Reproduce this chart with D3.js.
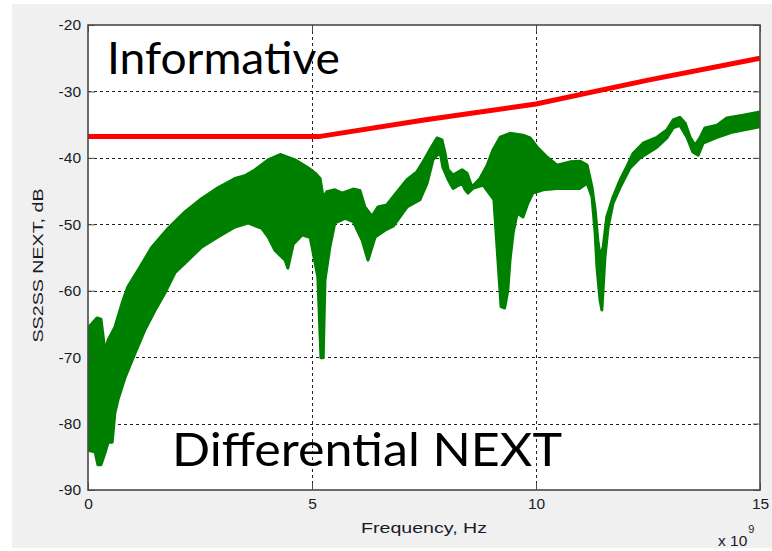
<!DOCTYPE html>
<html>
<head>
<meta charset="utf-8">
<script src="https://cdn.jsdelivr.net/npm/d3@7"></script>
<style>
  html, body { margin: 0; padding: 0; background: #ffffff; }
  svg { display: block; }
</style>
</head>
<body>
<svg id="chart" width="772" height="551"></svg>
<script>
// Axis ticks
const xTicks = [0, 5, 10, 15];            // GHz (axis shows x 10^9 Hz)
const yTicks = [-90, -80, -70, -60, -50, -40, -30, -20];

// Informative limit line: [frequency GHz, dB]
const limitFreq = [0, 5.15, 7.5, 10, 12.5, 15];
const limitDb   = [-36.8, -36.8, -34.3, -31.9, -28.3, -25.0];

// Differential NEXT, upper envelope of the measured trace: [GHz, dB]
const nextUpper = [
  [0.00,-65.6],[0.20,-64.1],[0.29,-64.3],[0.38,-69.2],[0.45,-67.4],[0.60,-65.5],
  [0.76,-61.9],[0.89,-59.4],[1.12,-56.9],[1.43,-53.4],[1.79,-50.6],[2.17,-48.1],
  [2.54,-46.1],[2.90,-44.5],[3.28,-43.1],[3.50,-42.7],[3.73,-41.8],[4.02,-40.3],
  [4.29,-39.5],[4.62,-40.3],[4.91,-41.5],[5.07,-42.3],[5.18,-43.1],[5.25,-46.0],
  [5.33,-45.1],[5.51,-44.8],[5.67,-45.3],[5.92,-44.7],[6.07,-44.9],[6.18,-47.4],
  [6.34,-48.8],[6.47,-47.4],[6.67,-47.1],[6.81,-45.9],[7.12,-43.3],[7.34,-42.1],
  [7.48,-40.6],[7.63,-38.8],[7.79,-37.0],[7.90,-37.3],[7.97,-39.3],[8.04,-41.8],
  [8.15,-42.6],[8.35,-41.8],[8.46,-42.3],[8.57,-44.4],[8.75,-43.1],[8.91,-41.1],
  [9.04,-38.8],[9.20,-36.9],[9.42,-36.3],[9.71,-36.6],[9.87,-37.0],[10.04,-38.5],
  [10.25,-39.9],[10.47,-41.1],[10.76,-40.6],[10.98,-40.5],[11.14,-41.1],[11.25,-44.4],
  [11.32,-47.8],[11.38,-52.4],[11.43,-54.9],[11.50,-53.4],[11.58,-48.9],[11.72,-45.9],
  [11.88,-43.3],[12.03,-41.3],[12.17,-39.3],[12.39,-37.8],[12.70,-36.9],[12.92,-35.8],
  [13.06,-34.3],[13.21,-33.9],[13.33,-34.8],[13.44,-36.9],[13.55,-38.1],[13.66,-37.0],
  [13.77,-35.5],[14.04,-35.1],[14.26,-34.0],[14.62,-33.6],[15.00,-33.1]
];

// Differential NEXT, lower envelope of the measured trace: [GHz, dB]
const nextLower = [
  [0.00,-84.0],[0.16,-84.3],[0.22,-86.2],[0.29,-86.2],[0.38,-84.4],[0.45,-82.8],
  [0.54,-82.8],[0.60,-78.4],[0.67,-76.4],[0.83,-73.0],[1.05,-69.4],[1.27,-65.9],
  [1.50,-62.9],[1.72,-60.3],[1.94,-57.3],[2.17,-55.8],[2.54,-53.4],[2.90,-51.9],
  [3.28,-50.4],[3.57,-49.8],[3.88,-50.6],[4.02,-51.9],[4.17,-53.9],[4.40,-55.4],
  [4.46,-56.6],[4.58,-53.0],[4.78,-51.6],[4.96,-52.0],[5.13,-57.9],[5.20,-70.1],
  [5.25,-70.1],[5.29,-58.4],[5.40,-53.4],[5.51,-49.8],[5.74,-49.1],[5.92,-49.6],
  [6.12,-52.4],[6.25,-55.4],[6.41,-51.9],[6.63,-50.9],[6.81,-50.3],[7.12,-47.4],
  [7.41,-46.3],[7.57,-43.8],[7.70,-40.3],[7.86,-39.1],[7.92,-41.4],[8.04,-43.3],
  [8.15,-44.6],[8.35,-43.8],[8.42,-44.8],[8.48,-45.3],[8.59,-44.6],[8.82,-44.1],
  [9.06,-46.3],[9.15,-55.4],[9.22,-62.4],[9.30,-62.6],[9.37,-60.0],[9.42,-55.4],
  [9.49,-51.3],[9.58,-48.3],[9.71,-48.9],[9.82,-46.8],[9.93,-45.3],[10.16,-44.8],
  [10.47,-44.6],[10.98,-44.6],[11.14,-43.8],[11.25,-45.9],[11.32,-51.3],[11.36,-56.4],
  [11.43,-61.4],[11.47,-62.9],[11.54,-54.9],[11.61,-50.4],[11.72,-46.8],[11.88,-44.4],
  [12.10,-41.5],[12.32,-40.0],[12.70,-38.4],[12.92,-37.0],[13.06,-35.5],[13.21,-35.1],
  [13.37,-36.9],[13.50,-39.1],[13.62,-39.6],[13.73,-37.8],[14.04,-36.9],[14.40,-36.1],
  [15.00,-35.3]
];

const svg = d3.select("#chart");
const W = 772, H = 551;
const margin = { left: 88, top: 25, right: 12, bottom: 61 };
const plotW = W - margin.left - margin.right;   // 672
const plotH = H - margin.top - margin.bottom;   // 465

// figure background
svg.append("rect").attr("x", 12).attr("y", 4).attr("width", 760).attr("height", 544)
  .attr("fill", "#f0f0f0");

const x = d3.scaleLinear().domain([0, 15]).range([0, plotW]);
const y = d3.scaleLinear().domain([-90, -20]).range([plotH, 0]);

const g = svg.append("g").attr("transform", `translate(${margin.left},${margin.top})`);

g.append("rect").attr("width", plotW).attr("height", plotH).attr("fill", "#ffffff");

svg.append("defs").append("clipPath").attr("id", "plotClip")
  .append("rect").attr("width", plotW).attr("height", plotH);

// dashed grid
const gridStyle = sel => sel.attr("stroke", "#222").attr("stroke-width", 1)
  .attr("stroke-dasharray", "3,3").attr("shape-rendering", "crispEdges");
g.selectAll(".gx").data(xTicks.filter(d => d > 0 && d < 15)).enter().append("line")
  .attr("x1", d => Math.round(x(d)) + 0.5).attr("x2", d => Math.round(x(d)) + 0.5)
  .attr("y1", 0).attr("y2", plotH).call(gridStyle);
g.selectAll(".gy").data(yTicks.filter(d => d > -90 && d < -20)).enter().append("line")
  .attr("y1", d => Math.round(y(d)) + 0.5).attr("y2", d => Math.round(y(d)) + 0.5)
  .attr("x1", 0).attr("x2", plotW).call(gridStyle);

// measured NEXT band (upper envelope forward, lower envelope back)
const band = nextUpper.concat(nextLower.slice().reverse());
const lineGen = d3.line().x(d => x(d[0])).y(d => y(d[1]));
g.append("path")
  .attr("clip-path", "url(#plotClip)")
  .attr("d", lineGen(band) + "Z")
  .attr("fill", "#008000")
  .attr("stroke", "#008000")
  .attr("stroke-width", 3)
  .attr("stroke-linejoin", "round");

// informative limit
g.append("path")
  .attr("d", d3.line().x((d, i) => x(limitFreq[i])).y(d => y(d))(limitDb))
  .attr("fill", "none")
  .attr("stroke", "#ff0000")
  .attr("stroke-width", 5);

// axes with inward ticks on all four sides
const axisColor = "#4a4a4a";
const tickFont = "'Liberation Sans', Arial, sans-serif";
const plainNum = d => String(d);
const styleAxis = sel => {
  sel.select(".domain").remove();
  sel.selectAll(".tick line").attr("stroke", axisColor);
  sel.selectAll(".tick text").attr("fill", "#1a1a2a")
    .attr("font-family", tickFont).attr("font-size", 15.5);
};
g.append("g").attr("transform", `translate(0,${plotH})`)
  .call(d3.axisBottom(x).tickValues(xTicks).tickSizeInner(-7).tickPadding(8).tickFormat(plainNum))
  .call(styleAxis);
g.append("g")
  .call(d3.axisLeft(y).tickValues(yTicks).tickSizeInner(-7).tickPadding(7).tickFormat(plainNum))
  .call(styleAxis);
g.append("g")
  .call(d3.axisTop(x).tickValues(xTicks).tickSizeInner(-7).tickFormat(""))
  .call(styleAxis);
g.append("g").attr("transform", `translate(${plotW},0)`)
  .call(d3.axisRight(y).tickValues(yTicks).tickSizeInner(-7).tickFormat(""))
  .call(styleAxis);

g.append("rect").attr("width", plotW).attr("height", plotH)
  .attr("fill", "none").attr("stroke", axisColor).attr("stroke-width", 1.6);

// axis titles
svg.append("text").attr("x", margin.left + plotW / 2).attr("y", 533)
  .attr("text-anchor", "middle").attr("font-family", tickFont).attr("font-size", 15)
  .attr("textLength", 126).attr("lengthAdjust", "spacingAndGlyphs")
  .attr("fill", "#1a1a2a").text("Frequency, Hz");
svg.append("text")
  .attr("transform", `translate(43,${margin.top + plotH / 2 + 8}) rotate(-90)`)
  .attr("text-anchor", "middle").attr("font-family", tickFont).attr("font-size", 15)
  .attr("textLength", 154).attr("lengthAdjust", "spacingAndGlyphs")
  .attr("fill", "#1a1a2a").text("SS2SS NEXT, dB");
const expo = svg.append("text").attr("x", 718).attr("y", 546)
  .attr("font-family", tickFont).attr("font-size", 15.5).attr("fill", "#1a1a2a");
expo.append("tspan").text("x 10");
expo.append("tspan").attr("dx", 1).attr("dy", -13).attr("font-size", 11).text("9");

// annotations
svg.append("text").attr("x", 107).attr("y", 74)
  .attr("font-family", "Lato, 'Open Sans', sans-serif").attr("font-size", 44)
  .attr("textLength", 233).attr("lengthAdjust", "spacingAndGlyphs")
  .attr("fill", "#000").text("Informative");
svg.append("text").attr("x", 172).attr("y", 466)
  .attr("font-family", "Lato, 'Open Sans', sans-serif").attr("font-size", 47)
  .attr("textLength", 390).attr("lengthAdjust", "spacingAndGlyphs")
  .attr("fill", "#000").text("Differential NEXT");
</script>
</body>
</html>
